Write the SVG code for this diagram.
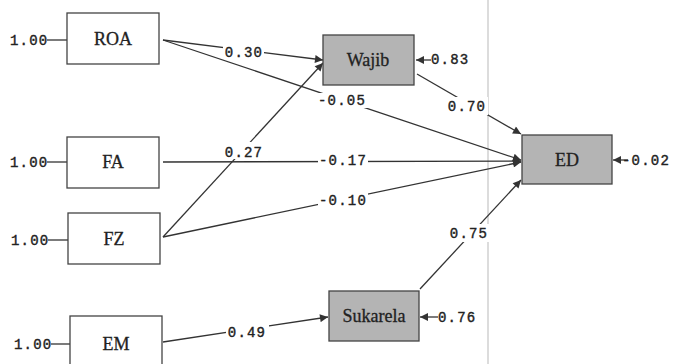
<svg xmlns="http://www.w3.org/2000/svg" width="675" height="364" viewBox="0 0 675 364">
<defs>
<marker id="ah" viewBox="0 0 10 10" refX="10" refY="5" markerWidth="11" markerHeight="8" markerUnits="userSpaceOnUse" orient="auto">
<path d="M0,0 L10,5 L0,10 z" fill="#333"/>
</marker>
<style>
.box{fill:#fff;stroke:#444;stroke-width:1.3}
.gbox{fill:#b4b4b4;stroke:#444;stroke-width:1.3}
.nl{font-family:"Liberation Serif","Times New Roman",serif;font-size:18px;fill:#222;stroke:#222;stroke-width:0.3;text-anchor:middle}
.ln{stroke:#333;stroke-width:1.3;fill:none}
.arr{stroke:#333;stroke-width:1.3;fill:none;marker-end:url(#ah)}
.lb{font-family:"Liberation Mono","Courier New",monospace;font-size:14px;letter-spacing:1.2px;fill:#222;stroke:#222;stroke-width:0.4}
.mid{text-anchor:middle}
.bg{fill:#fff}
</style>
</defs>
<rect width="675" height="364" fill="#fff"/>
<line x1="488" y1="0" x2="488" y2="364" stroke="#d0d0d0" stroke-width="1.5"/>

<g id="connectors">
<line class="arr" x1="163" y1="40" x2="323" y2="60"/>
<line class="arr" x1="163" y1="40" x2="521" y2="160"/>
<line class="arr" x1="163" y1="162" x2="521" y2="161"/>
<line class="arr" x1="163" y1="237" x2="323" y2="63"/>
<line class="arr" x1="163" y1="237" x2="521" y2="162"/>
<line class="arr" x1="417" y1="74" x2="521" y2="134"/>
<line class="arr" x1="420" y1="289" x2="521" y2="180"/>
<line class="arr" x1="163" y1="342" x2="328" y2="317"/>
<line class="arr" x1="431" y1="60" x2="416" y2="60"/>
<line class="arr" x1="628" y1="160" x2="613" y2="160"/>
<line class="arr" x1="438" y1="317" x2="420" y2="317"/>
<line class="ln" x1="47" y1="40" x2="67" y2="40"/>
<line class="ln" x1="47" y1="162" x2="67" y2="162"/>
<line class="ln" x1="48" y1="240" x2="68" y2="240"/>
<line class="ln" x1="51" y1="344" x2="70" y2="344"/>
<rect class="bg" x="223" y="44" width="41" height="15"/>
<text class="lb mid" x="244" y="57">0.30</text>
<rect class="bg" x="316" y="93" width="52" height="15"/>
<text class="lb mid" x="342" y="105">-0.05</text>
<rect class="bg" x="223" y="142" width="41" height="17"/>
<text class="lb mid" x="244" y="157">0.27</text>
<rect class="bg" x="318" y="154" width="50" height="14"/>
<text class="lb mid" x="343" y="165">-0.17</text>
<rect class="bg" x="318" y="193" width="50" height="15"/>
<text class="lb mid" x="343" y="205">-0.10</text>
<rect class="bg" x="447" y="97" width="41" height="18"/>
<text class="lb mid" x="467" y="111">0.70</text>
<rect class="bg" x="449" y="224" width="41" height="18"/>
<text class="lb mid" x="469" y="238">0.75</text>
<rect class="bg" x="226" y="325" width="43" height="15"/>
<text class="lb mid" x="247" y="337">0.49</text>
<text class="lb" x="431" y="64">0.83</text>
<text class="lb" x="622" y="165">-0.02</text>
<text class="lb" x="438" y="322">0.76</text>
<text class="lb" x="10" y="45">1.00</text>
<text class="lb" x="10" y="167">1.00</text>
<text class="lb" x="11" y="245">1.00</text>
<text class="lb" x="14" y="349">1.00</text>
</g>

<g id="ROA"><rect class="box" x="67" y="13" width="92" height="51"/><text class="nl" x="113" y="45">ROA</text></g>
<g id="FA"><rect class="box" x="67" y="137" width="92" height="51"/><text class="nl" x="113" y="168">FA</text></g>
<g id="FZ"><rect class="box" x="68" y="213" width="92" height="51"/><text class="nl" x="114" y="245">FZ</text></g>
<g id="EM"><rect class="box" x="70" y="316" width="92" height="60"/><text class="nl" x="116" y="350">EM</text></g>
<g id="Wajib"><rect class="gbox" x="323" y="35" width="91" height="50"/><text class="nl" x="368" y="66">Wajib</text></g>
<g id="ED"><rect class="gbox" x="522" y="135" width="90" height="49"/><text class="nl" x="567" y="166">ED</text></g>
<g id="Sukarela"><rect class="gbox" x="329" y="291" width="90" height="50"/><text class="nl" x="374" y="322">Sukarela</text></g>
</svg>
